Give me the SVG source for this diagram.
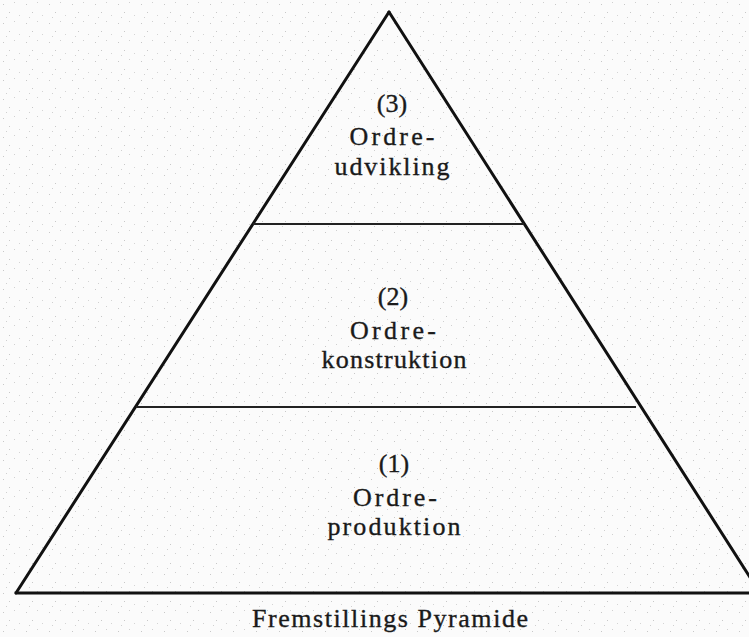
<svg xmlns="http://www.w3.org/2000/svg" width="749" height="637" viewBox="0 0 749 637">
  <defs>
    <pattern id="noise" width="23" height="19" patternUnits="userSpaceOnUse">
      <rect x="3" y="4" width="1" height="1" fill="#c8c8c8"/>
      <rect x="14" y="2" width="1" height="1" fill="#d0d0d0"/>
      <rect x="9" y="12" width="1" height="1" fill="#c8c8c8"/>
      <rect x="19" y="15" width="1" height="1" fill="#d4d4d4"/>
      <rect x="6" y="17" width="1" height="1" fill="#d0d0d0"/>
    </pattern>
    <style>
      .side { stroke: #111; stroke-width: 3; fill: none; stroke-linecap: round; }
      .div { stroke: #222; stroke-width: 2; fill: none; }
      .lbl { font-family: "Liberation Serif", "DejaVu Serif", serif; font-size: 26px; fill: #1a1a1a; stroke: #1a1a1a; stroke-width: 0.35; text-anchor: middle; }
      .title { font-family: "Liberation Serif", "DejaVu Serif", serif; font-size: 26px; fill: #1a1a1a; stroke: #1a1a1a; stroke-width: 0.35; text-anchor: middle; }
    </style>
  </defs>
  <rect width="749" height="637" fill="#fbfbfb"/>
  <rect width="749" height="637" fill="url(#noise)"/>

  <g id="connectors">
    <line class="side" x1="389" y1="12" x2="16" y2="593"/>
    <line class="side" x1="389" y1="12" x2="760" y2="593"/>
    <line class="side" x1="16" y1="593" x2="760" y2="593"/>
    <line class="div" x1="253" y1="224" x2="524" y2="224"/>
    <line class="div" x1="136" y1="407" x2="636" y2="407"/>
  </g>

  <g id="level3">
    <text class="lbl" x="392" y="112">(3)</text>
    <text class="lbl" x="392" y="145" textLength="85" lengthAdjust="spacing">Ordre-</text>
    <text class="lbl" x="392" y="175" textLength="115" lengthAdjust="spacing">udvikling</text>
  </g>
  <g id="level2">
    <text class="lbl" x="393" y="305">(2)</text>
    <text class="lbl" x="393" y="339" textLength="86" lengthAdjust="spacing">Ordre-</text>
    <text class="lbl" x="394" y="368" textLength="145" lengthAdjust="spacing">konstruktion</text>
  </g>
  <g id="level1">
    <text class="lbl" x="394" y="472">(1)</text>
    <text class="lbl" x="395" y="506" textLength="84" lengthAdjust="spacing">Ordre-</text>
    <text class="lbl" x="394" y="535" textLength="133" lengthAdjust="spacing">produktion</text>
  </g>
  <g id="caption">
    <text class="title" x="390" y="627" textLength="276" lengthAdjust="spacing">Fremstillings Pyramide</text>
  </g>
</svg>
